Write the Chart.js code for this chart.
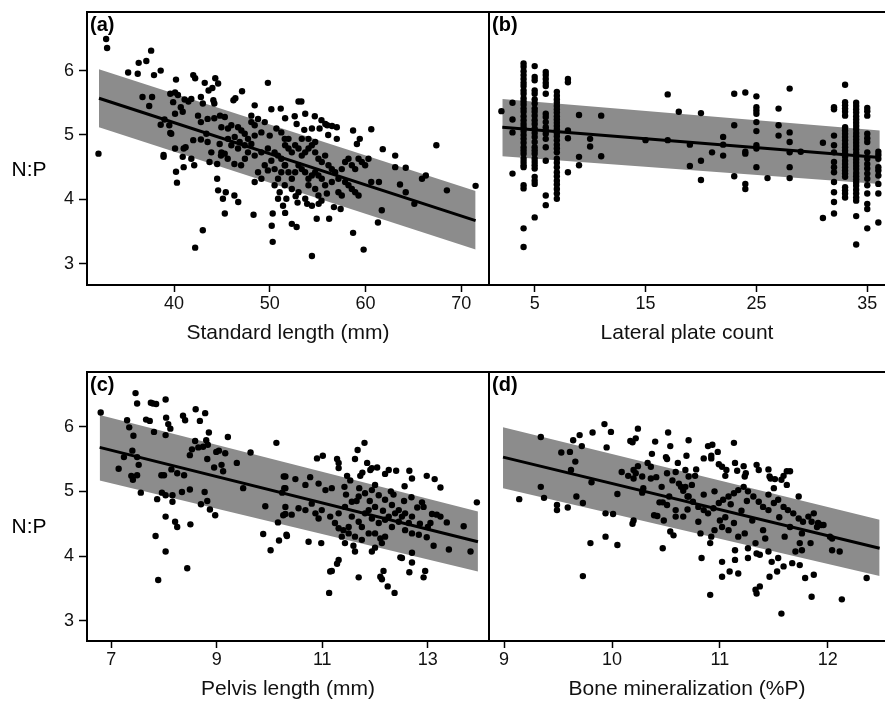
<!DOCTYPE html>
<html><head><meta charset="utf-8">
<script src="https://cdn.jsdelivr.net/npm/chart.js@4.4.1/dist/chart.umd.min.js"></script>
<style>
html,body{margin:0;padding:0;background:#fff;}
#wrap{position:relative;width:885px;height:702px;overflow:hidden;background:#fff;}
canvas{position:absolute;}
</style></head><body>
<div id="wrap">
<canvas id="ca" style="left:0px;top:0px;width:490px;height:350px" width="490" height="350"></canvas>
<canvas id="cb" style="left:480px;top:0px;width:405px;height:350px" width="405" height="350"></canvas>
<canvas id="cc" style="left:0px;top:360px;width:490px;height:342px" width="490" height="342"></canvas>
<canvas id="cd" style="left:480px;top:360px;width:405px;height:342px" width="405" height="342"></canvas>
</div>
<script>
// ---------- tick labels ----------
const ticksY = [3, 4, 5, 6];
const ticksA = [40, 50, 60, 70];
const ticksB = [5, 15, 25, 35];
const ticksC = [7, 9, 11, 13];
const ticksD = [9, 10, 11, 12];

// ---------- (a) standard length (mm) vs N:P ----------
const ptsA = [[32.9,6.49],[33.0,6.35],[32.1,4.71],[37.6,6.31],[37.1,6.15],[36.3,6.12],[35.2,5.97],[36.2,5.95],[37.9,5.93],[38.6,6.0],[36.7,5.59],[37.7,5.59],[37.4,5.45],[38.6,5.16],[39.6,5.03],[39.0,5.24],[38.9,4.69],[38.9,4.66],[40.2,5.86],[39.6,5.64],[40.1,5.66],[40.4,5.62],[39.9,5.51],[40.1,5.33],[40.9,5.36],[40.7,5.43],[41.1,5.55],[41.5,5.52],[41.8,5.56],[42.0,5.93],[42.2,5.88],[43.2,5.81],[44.3,5.88],[44.6,5.8],[43.6,5.69],[44.0,5.73],[42.8,5.59],[43.0,5.49],[44.1,5.54],[44.2,5.49],[46.2,5.54],[46.4,5.57],[47.1,5.68],[49.8,5.81],[42.5,5.30],[42.8,5.2],[43.5,5.25],[44.2,5.26],[44.8,5.3],[45.3,5.28],[40.1,4.79],[41.0,4.79],[41.2,4.81],[39.7,5.02],[39.5,5.15],[42.0,4.92],[42.8,4.93],[43.5,4.89],[40.9,4.66],[41.8,4.63],[41.0,4.5],[42.1,4.53],[40.2,4.43],[40.3,4.26],[43.7,4.58],[44.5,4.55],[44.9,4.68],[45.6,4.63],[46.3,4.55],[47.0,4.53],[47.4,4.63],[44.5,4.32],[44.6,4.14],[45.4,4.11],[45.1,4.01],[46.3,4.06],[46.7,3.96],[45.3,3.78],[48.3,3.76],[50.3,3.78],[50.2,3.59],[50.3,3.34],[43.0,3.52],[42.2,3.25],
[44.94,5.12],[45.63,5.10],[45.98,5.15],[46.68,5.12],[47.03,5.07],[47.38,5.02],[47.72,4.94],[48.42,4.99],[49.12,5.04],[48.07,5.20],[48.42,5.15],[48.77,5.25],[49.47,5.20],[45.63,4.94],[46.33,4.97],[46.85,4.89],[45.98,4.84],[46.68,4.79],[47.38,4.84],[48.07,4.86],[44.94,4.73],[45.29,4.71],[47.72,4.73],[48.42,4.68],[49.12,4.73],[49.8,4.79],[50.5,4.73],[50.86,4.68],[51.2,4.63],[50.16,4.60],[49.47,4.53],[49.8,4.45],[48.77,4.42],[49.12,4.32],[48.42,4.27],[50.5,4.47],[51.2,4.42],[50.86,4.32],[51.56,4.53],[50.5,4.22],[51.03,4.11],[51.56,4.22],[51.73,4.01],[50.86,4.01],[51.38,3.90],[50.16,5.40],[51.14,5.41],[48.07,5.30],[48.42,5.46],[50.69,5.10],[51.2,5.04],[51.56,4.94],[49.99,4.99],[43.89,4.73],[44.76,4.86],[43.37,5.02],
[53.0,5.52],[53.3,5.52],[51.6,5.26],[52.6,5.29],[53.7,5.33],[54.7,5.29],[52.8,5.17],[53.6,5.08],[54.4,5.10],[55.2,5.10],[56.0,5.15],[56.5,5.14],[57.0,5.12],[55.4,5.23],[55.8,5.17],[56.1,5.0],[57.0,4.94],[58.7,5.07],[60.6,5.09],[59.4,4.94],[59.1,4.86],[61.8,4.78],[67.4,4.84],[63.1,4.68],[63.1,4.50],[64.2,4.49],[65.9,4.32],[66.3,4.37],[68.5,4.14],[71.5,4.21],[63.6,4.23],[64.2,4.11],[65.1,3.93],[60.6,4.27],[61.4,4.27],[61.7,3.83],[61.3,3.64],[58.7,3.48],[59.8,3.22],[54.4,3.12],[52.3,3.62],[52.8,3.57],[51.6,3.79],[54.9,3.70],[56.2,3.70],[56.7,3.88],[57.4,3.85],[52.9,3.95],[53.9,3.93],[54.4,3.90],[55.1,3.93],[55.4,3.98],[52.7,4.05],[53.7,4.01],
[51.6,4.84],[51.95,4.79],[52.3,4.73],[52.65,4.84],[53.0,4.79],[53.34,4.68],[53.69,4.73],[54.04,4.79],[54.39,4.84],[54.74,4.73],[55.08,4.63],[55.43,4.58],[55.78,4.68],[56.13,4.53],[56.48,4.47],[56.83,4.42],[57.17,4.32],[57.52,4.47],[57.87,4.58],[58.22,4.63],[58.57,4.53],[58.92,4.47],[59.27,4.63],[59.61,4.58],[59.96,4.53],[60.31,4.63],[57.87,4.27],[58.22,4.22],[58.57,4.16],[58.92,4.11],[59.27,4.06],[57.17,4.11],[57.52,4.06],[56.48,4.27],[55.78,4.22],[55.43,4.32],[55.08,4.37],[54.74,4.42],[54.39,4.37],[54.04,4.32],[53.69,4.42],[53.34,4.47],[53.0,4.53],[52.65,4.42],[52.3,4.32],[51.95,4.42],[51.6,4.53],[52.3,4.16],[53.0,4.11],[54.04,4.22],[54.74,4.16],[55.08,4.06],[55.96,4.09],[53.34,4.94],[54.04,4.94],[54.74,4.89],[51.95,4.94]];
const fitXA = [32.15, 71.5];
const fitA = [5.57, 3.67];
const upperA = [6.02, 4.13];
const lowerA = [5.12, 3.22];

// ---------- (b) lateral plate count vs N:P ----------
const plateCounts = [2,3,4,5,6,7,8,9,10,11,15,17,18,19,20,21,22,23,24,25,26,27,28,29,31,32,33,34,35,36];
const plateNP = [
 [5.37],
 [5.50,5.24,5.04,4.40],
 [6.11,6.06,5.99,5.93,5.87,5.81,5.76,5.69,5.64,5.57,5.52,5.47,5.41,5.36,5.29,5.23,5.17,5.12,5.06,5.00,4.94,4.88,4.81,4.76,4.71,4.63,4.58,4.53,4.50,4.22,4.17,3.55,3.26],
 [6.07,5.90,5.85,5.69,5.64,5.55,5.49,5.41,5.36,5.30,5.23,5.17,5.10,5.03,4.97,4.89,4.81,4.76,4.71,4.63,4.58,4.53,4.48,4.35,4.29,4.24,3.72],
 [5.98,5.93,5.87,5.81,5.76,5.64,5.33,5.28,5.20,5.12,5.07,5.02,4.94,4.81,4.60,4.06,3.91],
 [5.67,5.61,5.55,5.50,5.45,5.40,5.35,5.29,5.24,5.19,5.14,5.09,5.03,4.98,4.92,4.85,4.79,4.73,4.63,4.57,4.50,4.42,4.36,4.29,4.23,4.16,4.09,4.01],
 [5.87,5.82,5.07,4.95,4.42],
 [5.31,4.66,4.53],
 [4.94,4.82],
 [5.30,4.67],
 [4.92],
 [5.63,4.92],
 [5.36],
 [4.85,4.52],
 [5.34,4.60,4.30],
 [4.73],
 [4.97,4.85,4.68],
 [5.64,5.15,4.36],
 [5.66,4.74,4.71,4.24,4.16],
 [5.60,5.43,5.38,5.33,5.20,5.06,4.84,4.79,4.50],
 [4.33],
 [5.41,5.15,4.99],
 [5.72,5.04,4.89,4.73,4.50,4.33],
 [4.74],
 [4.88,3.71],
 [5.43,5.40,4.99,4.84,4.73,4.58,4.50,4.42,4.27,4.11,3.96,3.78],
 [5.78,5.51,5.46,5.41,5.36,5.30,5.12,5.07,5.02,4.97,4.92,4.86,4.81,4.76,4.71,4.66,4.60,4.55,4.50,4.45,4.40,4.35,4.19,4.14,4.09,4.03],
 [5.50,5.45,5.40,5.35,5.29,5.24,5.19,5.14,5.09,5.03,4.98,4.93,4.88,4.83,4.78,4.72,4.67,4.62,4.57,4.52,4.47,4.41,4.36,4.31,4.26,4.21,4.15,4.09,4.03,3.98,3.74,3.30],
 [5.42,5.37,5.30,5.02,4.95,4.89,4.73,4.63,4.55,4.48,4.40,4.32,4.22,4.09,3.93,3.85,3.55],
 [4.74,4.69,4.63,4.50,4.45,4.37,4.24,4.09,3.64]
];
const fitXB = [2.08, 36.13];
const fitB = [5.12, 4.65];
const upperB = [5.56, 5.07];
const lowerB = [4.67, 4.24];

// ---------- (c) pelvis length (mm) vs N:P ----------
const ptsC = [[6.80,6.22],[7.46,6.52],[7.49,6.36],[7.75,6.37],[7.79,6.36],[7.85,6.35],[8.03,6.42],[7.30,6.10],[7.34,5.99],[7.66,6.11],[7.73,6.09],[7.42,5.86],[7.81,5.92],[8.04,6.14],[8.08,6.04],[8.12,5.97],[8.03,5.87],[8.36,6.17],[8.40,6.10],[8.60,6.27],[8.78,6.21],[8.68,6.09],[8.85,5.91],[8.80,5.79],[8.59,5.78],[9.21,5.84],[10.13,5.75],[9.64,5.60],[8.49,5.56],[8.53,5.65],[8.65,5.68],[8.74,5.69],[8.83,5.72],[8.99,5.61],[9.04,5.63],[9.16,5.59],[8.82,5.50],[8.95,5.37],[9.09,5.41],[9.12,5.31],[9.38,5.44],[9.50,5.05],[7.24,5.53],[7.14,5.35],[7.40,5.63],[7.49,5.53],[7.52,5.41],[7.49,5.25],[7.38,5.24],[7.41,5.18],[7.56,4.98],[7.95,5.25],[8.00,5.25],[8.14,5.34],[8.25,5.28],[8.38,5.25],[7.96,4.98],[8.03,4.94],[8.16,4.94],[8.16,4.84],[8.34,4.99],[8.49,5.03],[7.87,4.88],[8.77,4.99],[8.82,4.85],[8.70,4.80],[8.87,4.72],[8.97,4.63],[8.03,4.61],[8.21,4.53],[8.25,4.45],[8.50,4.49],[7.84,4.31],[8.03,4.07],[8.44,3.81],[7.89,3.63],[9.92,4.77],[10.24,4.98],[10.28,5.05],[10.27,5.23],[10.26,4.63],[10.16,4.52],[9.88,4.34],[10.18,4.24],[10.02,4.09],[10.32,4.33],
[11.80,5.75],[11.67,5.64],[11.62,5.50],[11.28,5.50],[11.31,5.44],[11.31,5.36],[10.90,5.51],[11.01,5.55],[11.85,5.44],[11.94,5.36],[12.04,5.37],[11.91,5.33],[11.76,5.29],[11.72,5.24],[12.19,5.27],[12.26,5.33],[12.40,5.32],[12.65,5.32],[12.70,5.20],[12.98,5.24],[13.13,5.19],[13.24,5.06],[13.93,4.83],[11.47,5.24],[11.53,5.17],[11.42,5.07],[12.56,5.08],[12.69,4.91],[12.89,4.83],[12.92,4.76],[10.30,5.23],[10.30,5.05],[10.49,5.19],[10.68,5.10],[10.77,5.22],[10.93,5.12],[11.06,5.02],[11.18,5.05],[10.42,4.64],[10.55,4.74],[10.30,4.65],[10.33,4.31],[10.87,4.66],[10.93,4.58],[10.99,4.71],[11.15,4.61],[10.74,4.22],[10.98,4.20],[11.24,4.51],[11.31,4.43],[11.40,4.40],[11.50,4.45],
[11.31,4.66],[11.43,4.76],[11.56,4.84],[11.69,4.92],[11.81,4.97],[11.94,5.02],[12.07,4.94],[12.19,4.87],[12.32,4.79],[12.45,4.71],[12.57,4.66],[12.70,4.61],
[11.56,4.61],[11.69,4.53],[11.81,4.66],[11.94,4.58],[12.07,4.51],[12.19,4.56],[12.32,4.45],[12.45,4.53],[12.57,4.40],[12.70,4.35],[12.83,4.33],
[12.00,4.35],[12.10,4.27],[12.19,4.30],[12.13,4.20],[11.43,4.20],[11.59,4.16],[11.62,4.07],[11.94,4.07],[12.00,4.13],[12.48,3.98],[12.51,3.97],[12.70,4.05],[12.70,3.90],[11.31,3.94],[11.28,3.88],[11.18,3.77],[11.15,3.76],[11.69,3.67],[12.10,3.68],[12.16,3.77],[12.13,3.64],[12.24,3.53],[12.37,3.43],[11.13,3.43],[12.65,3.75],[12.95,3.77],[12.92,3.67],[12.98,4.29],[13.11,4.16],[13.40,4.10],[13.81,4.07],[13.05,4.51],[13.24,4.61],[13.36,4.52],[13.68,4.46],[13.08,4.65],[13.17,4.64],[10.30,4.76],[10.80,4.81],[10.68,4.71],[11.88,4.71],[12.00,4.76],[11.75,4.45],[11.88,4.35],[12.26,4.61],[12.38,4.66],[12.51,4.61],[12.64,4.51],[11.62,4.30],[11.75,4.25],[11.50,4.35],[11.37,4.30],
[11.65,4.85],[11.90,4.85],[12.15,4.70],[12.35,4.95],[11.70,5.05],[12.00,5.10],[12.30,5.00],[12.55,4.85],[11.45,4.95],[12.80,4.75],[12.85,4.50],[13.00,4.45]];
const fitXC = [6.78, 13.95];
const fitC = [5.68, 4.22];
const upperC = [6.18, 4.69];
const lowerC = [5.17, 3.76];

// ---------- (d) bone mineralization (%P) vs N:P ----------
const ptsD = [[9.34,5.84],[9.14,4.88],[9.34,5.07],[9.37,4.90],[9.53,5.60],[9.61,5.61],[9.49,4.79],[9.49,4.71],[9.59,4.75],[9.64,5.79],[9.70,5.87],[9.72,5.70],[9.66,5.46],[9.62,5.33],[9.67,4.92],[9.73,4.82],[9.82,5.91],[9.93,6.04],[9.99,5.92],[9.95,5.68],[9.81,5.14],[10.05,4.96],[9.94,4.66],[10.01,4.65],[9.80,4.20],[9.94,4.30],[10.05,4.17],[9.73,3.69],
[10.09,5.30],[10.15,5.24],[10.20,5.33],[10.22,5.28],[10.20,5.20],[10.24,5.39],[10.17,5.78],[10.22,5.82],[10.24,5.97],[10.19,5.76],
[10.28,5.23],[10.29,5.05],[10.28,4.98],[10.20,4.55],[10.19,4.50],
[10.33,5.44],[10.36,5.38],[10.37,5.58],[10.40,5.77],
[10.36,5.20],[10.41,5.22],[10.46,5.07],[10.44,4.83],[10.47,4.83],[10.51,4.79],[10.53,4.92],
[10.39,4.63],[10.42,4.62],[10.48,4.55],[10.47,4.12],[10.54,4.38],[10.57,4.32],
[10.52,5.91],[10.54,5.70],[10.50,5.53],[10.51,5.50],[10.61,5.44],[10.59,5.30],[10.51,5.28],[10.56,5.17],
[10.62,5.12],[10.64,5.07],[10.66,5.01],[10.70,4.92],[10.70,4.72],[10.66,4.61],[10.59,4.71],[10.59,4.61],
[10.71,5.79],[10.69,5.55],
[10.89,5.70],[10.93,5.72],[10.98,5.61],[10.92,5.55],[10.92,5.51],[10.85,5.51],[11.13,5.75],
[10.99,5.42],[11.02,5.38],[11.06,5.33],[11.05,5.24],[11.14,5.44],[11.16,5.32],[11.22,5.39],[11.24,5.28],[11.23,5.23],
[11.34,5.41],[11.36,5.33],[11.45,5.34],[11.47,5.20],[11.51,5.19],[11.46,5.23],
[11.59,5.24],[11.62,5.31],[11.65,5.31],[11.57,5.18],[11.62,5.10],[11.73,4.92],
[10.68,5.33],[10.71,5.23],[10.77,5.24],[10.78,5.34],[10.74,5.10],[10.68,5.07],
[10.71,4.92],[10.75,4.84],[10.80,4.76],[10.85,4.71],[10.89,4.66],[10.94,4.74],[10.99,4.82],[11.03,4.87],[11.08,4.92],[11.13,4.97],[11.17,5.02],[11.22,5.07],[11.26,5.00],[11.31,4.92],[11.36,4.84],[11.40,4.76],[11.45,4.71],[11.50,4.82],[11.54,4.87],[11.59,4.76],[11.63,4.71],[11.68,4.66],[11.73,4.58],[11.77,4.53],[11.82,4.61],[11.87,4.66],[11.91,4.51],[11.96,4.48],[12.02,4.30],
[10.80,4.53],[10.82,4.35],[10.91,4.20],[10.92,4.30],[10.95,4.40],[11.02,4.45],[11.08,4.40],[11.13,4.51],[11.14,4.09],[11.14,3.94],[11.17,4.30],[11.23,4.35],[11.26,4.12],[11.26,3.97],[11.33,4.20],[11.34,4.04],[11.37,4.02],[11.42,4.27],[11.45,4.07],[11.48,3.91],[11.54,3.97],[11.59,3.84],[11.67,3.89],[11.70,4.07],[11.74,4.20],[11.76,4.09],[11.84,4.20],[11.76,4.35],[11.85,4.53],[11.90,4.45],[11.94,4.48],[12.04,4.27],[12.04,4.09],[12.11,4.07],[12.36,3.66],[12.13,3.33],[11.85,3.37],[11.79,3.66],[11.87,3.71],[11.74,3.86],[11.57,3.11],[11.33,3.48],[11.34,3.42],[11.37,3.53],[11.17,3.73],[11.09,3.76],[11.02,3.68],[11.02,3.91],[10.91,3.40],[10.83,3.97],[11.46,3.68],[11.53,3.76],
[10.85,4.95],[10.95,5.00],[11.05,4.60],[11.20,4.70],[11.30,4.55],[11.45,4.95],[11.55,4.60],[11.65,4.45],[11.10,4.80],[11.40,4.40],[11.60,4.30],[11.00,4.55],[11.25,4.85],[11.50,5.05]];
const fitXD = [8.99, 12.48];
const fitD = [5.53, 4.12];
const upperD = [5.99, 4.56];
const lowerD = [5.05, 3.69];

// ---------- build ----------
const FONT = '"Liberation Sans", Arial, Helvetica, sans-serif';
Chart.defaults.font.family = FONT;
Chart.defaults.color = '#111';

const framePlugin = {
  id: 'frame',
  afterDraw(chart, args, opts) {
    const {ctx, chartArea: a} = chart;
    ctx.save();
    ctx.strokeStyle = '#000';
    ctx.lineWidth = 2;
    ctx.beginPath();
    if (opts.closed) {
      ctx.rect(a.left, a.top, a.right - a.left, a.bottom - a.top);
    } else {
      ctx.moveTo(a.right + 2, a.top);
      ctx.lineTo(a.left, a.top);
      ctx.lineTo(a.left, a.bottom);
      ctx.lineTo(a.right + 2, a.bottom);
    }
    ctx.stroke();
    ctx.fillStyle = '#000';
    ctx.font = 'bold 20px ' + FONT;
    ctx.textAlign = 'left';
    ctx.textBaseline = 'top';
    ctx.fillText(opts.tag, a.left + 3, a.top + 3);
    if (opts.yTitle) {
      ctx.font = '21px ' + FONT;
      ctx.textAlign = 'center';
      ctx.textBaseline = 'middle';
      ctx.fillText(opts.yTitle, 29, chart.scales.y.getPixelForValue(4.45));
    }
    ctx.restore();
  }
};

function toXY(xs, ys) { return xs.map((x, i) => ({x: x, y: ys[i]})); }
function pairs(p) { return p.map(q => ({x: q[0], y: q[1]})); }

function makeChart(id, cfg) {
  const left = cfg.left;
  const datasets = [
    {data: toXY(cfg.fitX, cfg.upper), borderWidth: 0, pointRadius: 0, showLine: true,
     backgroundColor: 'rgb(140,140,140)', fill: {target: 1}, order: 5},
    {data: toXY(cfg.fitX, cfg.lower), borderWidth: 0, pointRadius: 0, showLine: true, fill: false, order: 4},
    {data: cfg.points, showLine: false, pointRadius: 3.2, pointBackgroundColor: '#000',
     pointBorderWidth: 0, borderColor: '#000', order: 2},
    {data: toXY(cfg.fitX, cfg.fit), borderColor: '#000', borderWidth: 3, pointRadius: 0,
     showLine: true, fill: false, order: 1}
  ];
  return new Chart(document.getElementById(id), {
    type: 'line',
    data: {datasets: datasets},
    plugins: [framePlugin],
    options: {
      responsive: false,
      animation: false,
      events: [],
      layout: {autoPadding: false, padding: {top: 12, left: left ? 0 : 9, right: left ? 1 : 0, bottom: 0}},
      plugins: {
        legend: {display: false},
        tooltip: {enabled: false},
        frame: {tag: cfg.tag, yTitle: left ? 'N:P' : null, closed: left}
      },
      scales: {
        x: {
          type: 'linear', min: cfg.xmin, max: cfg.xmax,
          afterBuildTicks: (ax) => { ax.ticks = cfg.ticks.map(v => ({value: v})); },
          afterFit: (ax) => { ax.height = cfg.xh; ax.paddingLeft = 0; ax.paddingRight = 0; },
          grid: {display: true, drawOnChartArea: false, drawTicks: true, tickLength: 7,
                 tickColor: '#000', tickWidth: 1.5},
          border: {display: false},
          ticks: {font: {size: 18}, color: '#111', padding: 1, maxRotation: 0, autoSkip: false},
          title: {display: true, text: cfg.xTitle, font: {size: 21}, color: '#111',
                  padding: {top: 0, bottom: cfg.titlePad}}
        },
        y: {
          type: 'linear', min: cfg.ymin, max: cfg.ymax, display: left,
          afterBuildTicks: (ax) => { ax.ticks = ticksY.map(v => ({value: v})); },
          afterFit: (ax) => { if (left) ax.width = 87; ax.paddingTop = 0; ax.paddingBottom = 0; },
          grid: {display: true, drawOnChartArea: false, drawTicks: true, tickLength: 8,
                 tickColor: '#000', tickWidth: 1.5},
          border: {display: false},
          ticks: {font: {size: 18}, color: '#111', padding: 5}
        }
      }
    }
  });
}

makeChart('ca', {left: true, tag: '(a)', points: pairs(ptsA), fitX: fitXA, fit: fitA,
  upper: upperA, lower: lowerA, xmin: 30.9, xmax: 72.9, ymin: 2.67, ymax: 6.91,
  ticks: ticksA, xTitle: 'Standard length (mm)', xh: 65, titlePad: 4});

const ptsB = [];
plateCounts.forEach((c, i) => plateNP[i].forEach(v => ptsB.push({x: c, y: v})));
makeChart('cb', {left: false, tag: '(b)', points: ptsB, fitX: fitXB, fit: fitB,
  upper: upperB, lower: lowerB, xmin: 0.88, xmax: 36.6, ymin: 2.67, ymax: 6.91,
  ticks: ticksB, xTitle: 'Lateral plate count', xh: 65, titlePad: 4});

makeChart('cc', {left: true, tag: '(c)', points: pairs(ptsC), fitX: fitXC, fit: fitC,
  upper: upperC, lower: lowerC, xmin: 6.54, xmax: 14.16, ymin: 2.686, ymax: 6.846,
  ticks: ticksC, xTitle: 'Pelvis length (mm)', xh: 61, titlePad: 0});

makeChart('cd', {left: false, tag: '(d)', points: pairs(ptsD), fitX: fitXD, fit: fitD,
  upper: upperD, lower: lowerD, xmin: 8.86, xmax: 12.53, ymin: 2.686, ymax: 6.846,
  ticks: ticksD, xTitle: 'Bone mineralization (%P)', xh: 61, titlePad: 0});
</script>
</body></html>
